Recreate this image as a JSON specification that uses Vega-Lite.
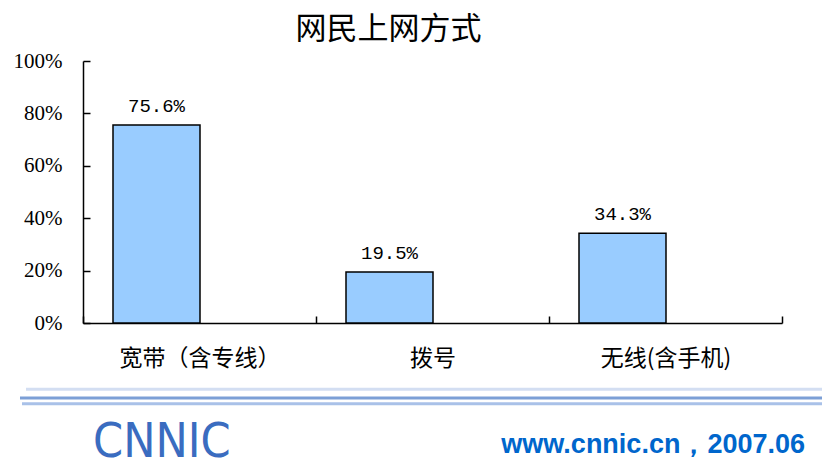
{
  "$schema": "https://vega.github.io/schema/vega-lite/v6.json",
  "background": "white",
  "padding": {"left": 13, "top": 14, "right": 0, "bottom": 0},
  "spacing": 0,
  "config": {"view": {"stroke": null}},
  "vconcat": [
    {
      "width": 699,
      "height": 262,
      "title": {"text": "网民上网方式", "font": "Noto Sans CJK SC", "fontSize": 31, "fontWeight": "normal", "color": "#000000", "dx": -44, "offset": 4},
      "data": {"values": [
        {"方式": "宽带（含专线）", "比例": 0.756},
        {"方式": "拨号", "比例": 0.195},
        {"方式": "无线(含手机)", "比例": 0.343}
      ]},
      "encoding": {
        "x": {"field": "方式", "type": "nominal", "sort": null,
          "scale": {"paddingInner": 0, "paddingOuter": 0},
          "axis": {"title": null, "labelAngle": 0, "tickBand": "extent", "tickSize": -7, "tickColor": "#000000", "tickWidth": 1.5, "domainColor": "#000000", "domainWidth": 1.5, "labelFont": "Noto Sans CJK SC", "labelFontSize": 23, "labelColor": "#000000", "labelPadding": 31}},
        "y": {"field": "比例", "type": "quantitative",
          "scale": {"domain": [0, 1]},
          "axis": {"title": null, "format": ".0%", "values": [0, 0.2, 0.4, 0.6, 0.8, 1], "grid": false, "tickSize": -7, "tickColor": "#000000", "tickWidth": 1.5, "domainColor": "#000000", "domainWidth": 1.5, "labelFont": "Liberation Serif", "labelFontSize": 21, "labelColor": "#000000", "labelPadding": 28}}
      },
      "layer": [
        {"mark": {"type": "bar", "color": "#99CCFF", "stroke": "#000000", "strokeWidth": 1.5, "width": 87, "xOffset": -43}},
        {"mark": {"type": "text", "font": "Liberation Mono", "fontSize": 19, "baseline": "bottom", "dy": -9, "xOffset": -43, "color": "#000000"},
          "encoding": {"text": {"field": "比例", "type": "quantitative", "format": ".1%"}}}
      ]
    },
    {
      "width": 739,
      "height": 90,
      "data": {"values": [
        {"kind": "line", "x": -57, "x2": 739, "y": 20, "c": "#D3DEF2"},
        {"kind": "line", "x": -63, "x2": 739, "y": 29, "c": "#7C9FD6"},
        {"kind": "line", "x": -61, "x2": 739, "y": 35, "c": "#A9C1E8"},
        {"kind": "logo", "x": 10, "y": 90, "label": "CNNIC"},
        {"kind": "url", "x": 722, "y": 86, "label": "www.cnnic.cn，2007.06"}
      ]},
      "layer": [
        {"transform": [{"filter": "datum.kind === 'line'"}],
          "mark": {"type": "rule", "strokeWidth": 3},
          "encoding": {
            "x": {"field": "x", "type": "quantitative", "scale": {"domain": [0, 739]}, "axis": null},
            "x2": {"field": "x2"},
            "y": {"field": "y", "type": "quantitative", "scale": {"domain": [0, 93], "reverse": true}, "axis": null},
            "color": {"field": "c", "type": "nominal", "scale": null, "legend": null}
          }},
        {"transform": [{"filter": "datum.kind === 'logo'"}],
          "mark": {"type": "text", "font": "DejaVu Sans Condensed", "fontSize": 48, "align": "left", "baseline": "alphabetic", "color": "#3A6CC0"},
          "encoding": {
            "x": {"field": "x", "type": "quantitative", "scale": {"domain": [0, 739]}, "axis": null},
            "y": {"field": "y", "type": "quantitative", "scale": {"domain": [0, 93], "reverse": true}, "axis": null},
            "text": {"field": "label"}
          }},
        {"transform": [{"filter": "datum.kind === 'url'"}],
          "mark": {"type": "text", "font": "Liberation Sans", "fontWeight": "bold", "fontSize": 27, "align": "right", "baseline": "alphabetic", "color": "#0066CC"},
          "encoding": {
            "x": {"field": "x", "type": "quantitative", "scale": {"domain": [0, 739]}, "axis": null},
            "y": {"field": "y", "type": "quantitative", "scale": {"domain": [0, 93], "reverse": true}, "axis": null},
            "text": {"field": "label"}
          }}
      ]
    }
  ]
}
